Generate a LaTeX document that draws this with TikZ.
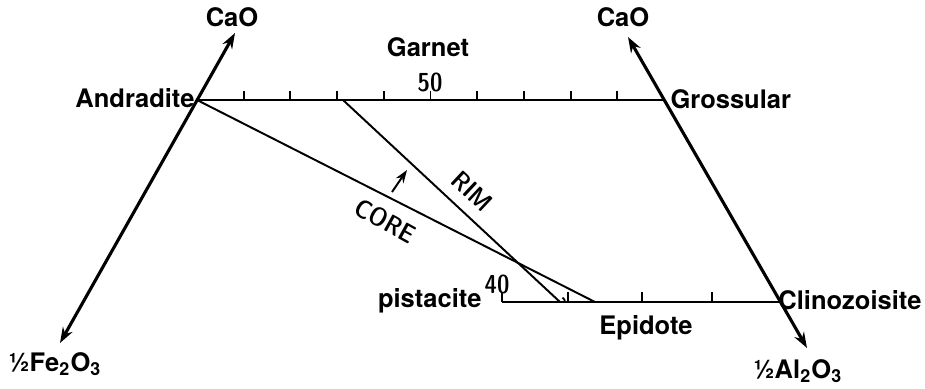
\documentclass[tikz,border=0pt]{standalone}
\usepackage{fontspec}
\setmainfont{TeX Gyre Heros}
\usetikzlibrary{arrows.meta}
\tikzset{
  axisline/.style={line width=1.2pt, {Stealth[length=6pt,width=4.2pt]}-{Stealth[length=6pt,width=4.2pt]}},
  scaleline/.style={line width=1.1pt},
  tieline/.style={line width=0.75pt},
  tickmark/.style={line width=0.7pt},
  mineral/.style={font=\bfseries\fontsize{9.8}{11}\selectfont, inner sep=0pt},
  hand/.style={font=\sffamily\fontseries{sbc}\fontsize{10}{11}\selectfont, inner sep=0pt}
}
\begin{document}
\begin{tikzpicture}[x=0.0135cm, y=-0.0135cm]
      \useasboundingbox (0,0) rectangle (925,388);
      % end members and axis tips
      \coordinate (andr) at (197,100);
      \coordinate (gross) at (664,100);
      \coordinate (pist) at (502,302);
      \coordinate (clino) at (781,302);
      \coordinate (caoL) at (235,33);
      \coordinate (feTip) at (60,343);
      \coordinate (caoR) at (628,37);
      \coordinate (alTip) at (807,348);
      \coordinate (rimG) at (343,100);
      \coordinate (rimE) at (560,302);
      \coordinate (coreE) at (595,302);
      % axes
      \draw[axisline] (feTip) -- (caoL);
      \draw[axisline] (alTip) -- (caoR);
      % garnet and epidote scales
      \draw[scaleline] (andr) -- (gross);
      \draw[scaleline] (pist) -- (clino);
      \foreach \k in {1,...,9}
        \draw[tickmark] ({197+46.7*\k},100) -- ++(0,-9);
      \foreach \x in {502,568,642,712}
        \draw[tickmark] (\x,302) -- ++(0,-10);
      % tie lines
      \draw[tieline] (andr) -- (coreE);
      \draw[tieline] (rimG) -- (rimE);
      \draw[tickmark] (rimE) ++(5,0) arc[start angle=0, end angle=-60, radius=5];
      \coordinate (arrA) at (392,192);
      \coordinate (arrB) at (407,170);
      \draw[tieline, -{Stealth[length=5pt,width=3.5pt]}] (arrA) -- (arrB);
      % labels
      \node[mineral] (caoLabL) at (232,17) {CaO};
      \node[mineral] (caoLabR) at (623,17) {CaO};
      \node[mineral] (garnet) at (428,47) {Garnet};
      \node[mineral, anchor=east] (andrLab) at (195,98) {Andradite};
      \node[mineral, anchor=west] (grossLab) at (670,99) {Grossular};
      \node[mineral, anchor=east] (pistLab) at (482,301) {pistacite};
      \node[mineral] (epidote) at (646,328) {Epidote};
      \node[mineral, anchor=east] (clinoLab) at (922,300) {Clinozoisite};
      \node[mineral] (feLab) at (55,364) {½Fe\textsubscript{2}O\textsubscript{3}};
      \node[mineral] (alLab) at (798,371) {½Al\textsubscript{2}O\textsubscript{3}};
      \node[hand] (fifty) at (430,82) {50};
      \node[hand] (forty) at (497,284) {40};
      \node[hand, rotate=-43] (rim) at (472,191) {RIM};
      \node[hand, rotate=-29] (core) at (385,221) {CORE};
\end{tikzpicture}
\end{document}
